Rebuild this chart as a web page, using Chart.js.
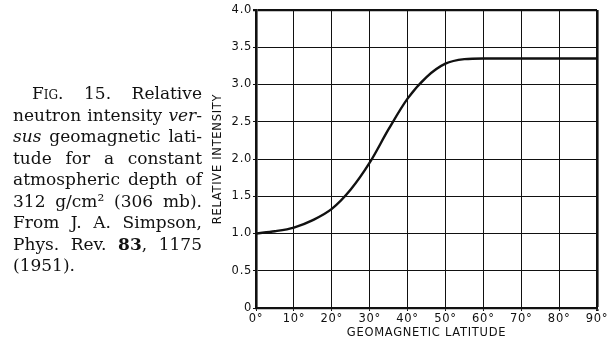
<!DOCTYPE html>
<html>
<head>
<meta charset="utf-8">
<script src="https://cdn.jsdelivr.net/npm/chart.js@4/dist/chart.umd.min.js"></script>
<style>
  html, body { margin: 0; padding: 0; background: #fff; }
  #wrap { position: relative; width: 611px; height: 354px; overflow: hidden; }
  #chart { position: absolute; left: 0; top: 0; }
  #cap {
    position: absolute; left: 13px; top: 83px; width: 189px;
    font-family: "DejaVu Serif", serif; font-size: 17px; line-height: 21.5px;
    color: #111;
  }
  #cap .l { display: flex; justify-content: space-between; white-space: nowrap; }
  #cap .first { padding-left: 19px; }
  #cap .last { justify-content: flex-start; }
  #cap .sc { font-variant: small-caps; }
</style>
</head>
<body>
<div id="wrap">
  <canvas id="chart" width="611" height="354"></canvas>
  <div id="cap">
    <div class="l first"><span class="sc">Fig.</span><span>15.</span><span>Relative</span></div>
    <div class="l"><span>neutron</span><span>intensity</span><span><i>ver-</i></span></div>
    <div class="l"><span><i>sus</i></span><span>geomagnetic</span><span>lati-</span></div>
    <div class="l"><span>tude</span><span>for</span><span>a</span><span>constant</span></div>
    <div class="l"><span>atmospheric</span><span>depth</span><span>of</span></div>
    <div class="l"><span>312</span><span>g/cm²</span><span>(306</span><span>mb).</span></div>
    <div class="l"><span>From</span><span>J.</span><span>A.</span><span>Simpson,</span></div>
    <div class="l"><span>Phys.</span><span>Rev.</span><span><b>83</b>,</span><span>1175</span></div>
    <div class="l last"><span>(1951).</span></div>
  </div>
</div>
<script>
// Geomagnetic latitude (degrees) and relative neutron intensity at 312 g/cm²
const latitude  = [0, 5, 10, 15, 20, 25, 30, 35, 40, 45, 50, 55, 60, 70, 80, 90];
const intensity = [1.00, 1.03, 1.08, 1.18, 1.33, 1.59, 1.95, 2.40, 2.81, 3.10, 3.28, 3.34, 3.35, 3.35, 3.35, 3.35];

// Axis ticks
const xTicks = [0, 10, 20, 30, 40, 50, 60, 70, 80, 90];
const yTicks = [0, 0.5, 1.0, 1.5, 2.0, 2.5, 3.0, 3.5, 4.0];

const xTitle = 'GEOMAGNETIC LATITUDE';
const yTitle = 'RELATIVE INTENSITY';

const INK = '#111';
const labelFont = { family: '"DejaVu Sans", sans-serif', size: 11.5 };
const titleFont = { family: '"DejaVu Sans", sans-serif', size: 11.5 };

// Slightly spaced lettering for axis text, plain text for the curve layer
const spacing = {
  id: 'spacing',
  beforeDraw(chart) { chart.ctx.letterSpacing = '0.7px'; },
  beforeDatasetsDraw(chart) { chart.ctx.letterSpacing = '0px'; }
};

new Chart(document.getElementById('chart'), {
  type: 'line',
  data: {
    datasets: [{
      data: latitude.map((x, i) => ({ x, y: intensity[i] })),
      borderColor: INK,
      borderWidth: 2.4,
      pointRadius: 0,
      fill: false,
      cubicInterpolationMode: 'monotone'
    }]
  },
  options: {
    responsive: false,
    animation: false,
    events: [],
    layout: { padding: { left: 0, right: 14, top: 10, bottom: 0 } },
    plugins: { legend: { display: false }, tooltip: { enabled: false } },
    scales: {
      x: {
        type: 'linear', min: 0, max: 90,
        afterFit(s) { s.height = 46; },
        afterBuildTicks(s) { s.ticks = xTicks.map(v => ({ value: v })); },
        ticks: {
          color: INK, font: labelFont, padding: 1, maxRotation: 0,
          callback: v => v + '°'
        },
        grid: {
          color: INK,
          lineWidth: c => (c.tick && c.tick.value === 90 ? 2.6 : 1),
          tickLength: 3
        },
        border: { color: INK, width: 2.2 },
        title: {
          display: true, text: xTitle, color: INK, font: titleFont,
          padding: { top: 0, bottom: 14 }
        }
      },
      y: {
        type: 'linear', min: 0, max: 4,
        afterFit(s) { s.width = 256; },
        afterBuildTicks(s) { s.ticks = yTicks.map(v => ({ value: v })); },
        ticks: {
          color: INK, font: labelFont, padding: 1,
          callback: v => (v === 0 ? '0' : v.toFixed(1))
        },
        grid: {
          color: INK,
          lineWidth: c => (c.tick && c.tick.value === 4 ? 2.2 : 1),
          tickLength: 3
        },
        border: { color: INK, width: 2.6 },
        title: {
          display: true, text: yTitle, color: INK, font: titleFont,
          padding: { top: 211, bottom: 0 }
        }
      }
    }
  },
  plugins: [spacing]
});
</script>
</body>
</html>
